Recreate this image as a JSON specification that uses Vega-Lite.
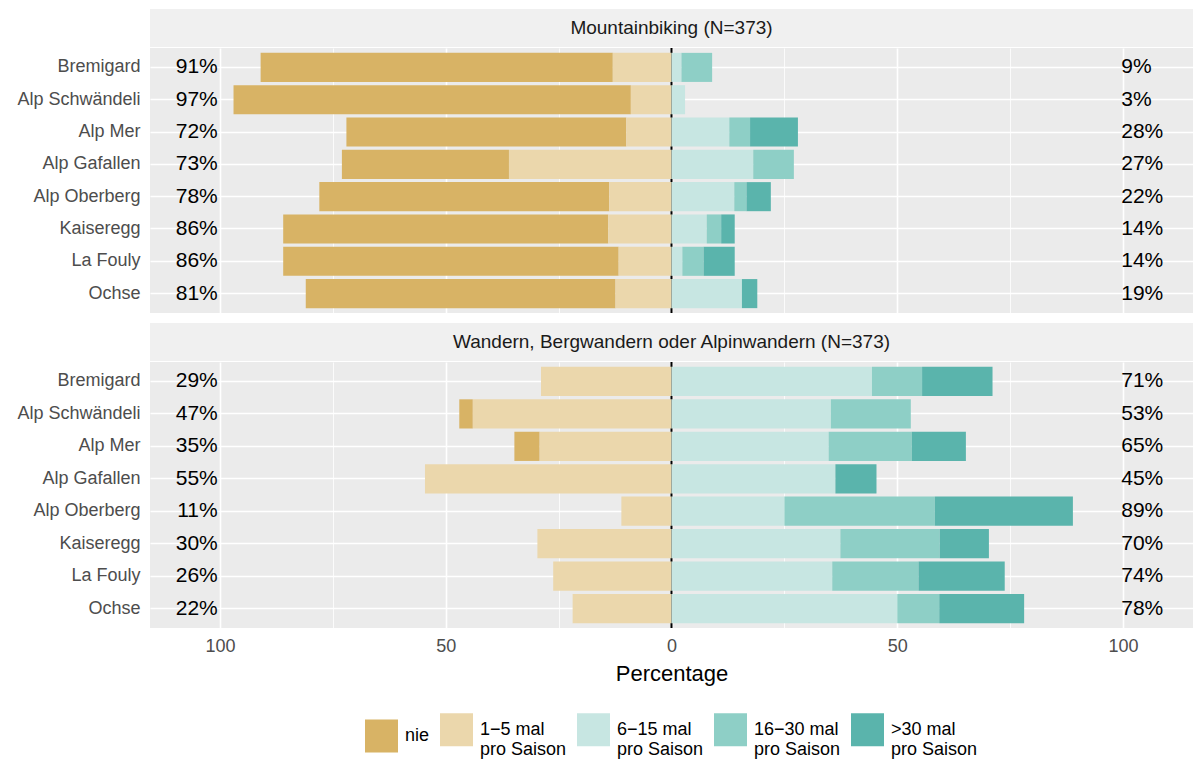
{
  "$schema": "https://vega.github.io/schema/vega-lite/v6.json",
  "padding": {"left": 5, "top": 9, "right": 1, "bottom": 2},
  "background": "white",
  "config": {
    "font": "Liberation Sans",
    "view": {"fill": "#EBEBEB", "stroke": null},
    "axis": {"domain": false, "ticks": false, "tickSize": 0, "gridColor": "white", "labelColor": "#4D4D4D", "labelFontSize": 18, "titleFontWeight": "normal", "titleColor": "black"}
  },
  "datasets": {
    "strips": [
      {"a": "M", "title": "Mountainbiking (N=373)"},
      {"a": "W", "title": "Wandern, Bergwandern oder Alpinwandern (N=373)"}
    ],
    "labels": [
      {"a": "M", "site": "Bremigard", "left": "91%", "right": "9%"},
      {"a": "M", "site": "Alp Schwändeli", "left": "97%", "right": "3%"},
      {"a": "M", "site": "Alp Mer", "left": "72%", "right": "28%"},
      {"a": "M", "site": "Alp Gafallen", "left": "73%", "right": "27%"},
      {"a": "M", "site": "Alp Oberberg", "left": "78%", "right": "22%"},
      {"a": "M", "site": "Kaiseregg", "left": "86%", "right": "14%"},
      {"a": "M", "site": "La Fouly", "left": "86%", "right": "14%"},
      {"a": "M", "site": "Ochse", "left": "81%", "right": "19%"},
      {"a": "W", "site": "Bremigard", "left": "29%", "right": "71%"},
      {"a": "W", "site": "Alp Schwändeli", "left": "47%", "right": "53%"},
      {"a": "W", "site": "Alp Mer", "left": "35%", "right": "65%"},
      {"a": "W", "site": "Alp Gafallen", "left": "55%", "right": "45%"},
      {"a": "W", "site": "Alp Oberberg", "left": "11%", "right": "89%"},
      {"a": "W", "site": "Kaiseregg", "left": "30%", "right": "70%"},
      {"a": "W", "site": "La Fouly", "left": "26%", "right": "74%"},
      {"a": "W", "site": "Ochse", "left": "22%", "right": "78%"}
    ],
    "bars": [
      {"a": "M", "site": "Bremigard", "freq": "nie", "v": -78, "o": 2},
      {"a": "M", "site": "Bremigard", "freq": "1−5 mal pro Saison", "v": -13, "o": 1},
      {"a": "M", "site": "Bremigard", "freq": "6−15 mal pro Saison", "v": 2.2, "o": 3},
      {"a": "M", "site": "Bremigard", "freq": "16−30 mal pro Saison", "v": 6.8, "o": 4},
      {"a": "M", "site": "Alp Schwändeli", "freq": "nie", "v": -88, "o": 2},
      {"a": "M", "site": "Alp Schwändeli", "freq": "1−5 mal pro Saison", "v": -9, "o": 1},
      {"a": "M", "site": "Alp Schwändeli", "freq": "6−15 mal pro Saison", "v": 3, "o": 3},
      {"a": "M", "site": "Alp Mer", "freq": "nie", "v": -62, "o": 2},
      {"a": "M", "site": "Alp Mer", "freq": "1−5 mal pro Saison", "v": -10, "o": 1},
      {"a": "M", "site": "Alp Mer", "freq": "6−15 mal pro Saison", "v": 12.8, "o": 3},
      {"a": "M", "site": "Alp Mer", "freq": "16−30 mal pro Saison", "v": 4.6, "o": 4},
      {"a": "M", "site": "Alp Mer", "freq": ">30 mal pro Saison", "v": 10.6, "o": 5},
      {"a": "M", "site": "Alp Gafallen", "freq": "nie", "v": -37, "o": 2},
      {"a": "M", "site": "Alp Gafallen", "freq": "1−5 mal pro Saison", "v": -36, "o": 1},
      {"a": "M", "site": "Alp Gafallen", "freq": "6−15 mal pro Saison", "v": 18.1, "o": 3},
      {"a": "M", "site": "Alp Gafallen", "freq": "16−30 mal pro Saison", "v": 9.0, "o": 4},
      {"a": "M", "site": "Alp Oberberg", "freq": "nie", "v": -64.2, "o": 2},
      {"a": "M", "site": "Alp Oberberg", "freq": "1−5 mal pro Saison", "v": -13.8, "o": 1},
      {"a": "M", "site": "Alp Oberberg", "freq": "6−15 mal pro Saison", "v": 13.9, "o": 3},
      {"a": "M", "site": "Alp Oberberg", "freq": "16−30 mal pro Saison", "v": 2.7, "o": 4},
      {"a": "M", "site": "Alp Oberberg", "freq": ">30 mal pro Saison", "v": 5.4, "o": 5},
      {"a": "M", "site": "Kaiseregg", "freq": "nie", "v": -72, "o": 2},
      {"a": "M", "site": "Kaiseregg", "freq": "1−5 mal pro Saison", "v": -14, "o": 1},
      {"a": "M", "site": "Kaiseregg", "freq": "6−15 mal pro Saison", "v": 7.8, "o": 3},
      {"a": "M", "site": "Kaiseregg", "freq": "16−30 mal pro Saison", "v": 3.2, "o": 4},
      {"a": "M", "site": "Kaiseregg", "freq": ">30 mal pro Saison", "v": 3.0, "o": 5},
      {"a": "M", "site": "La Fouly", "freq": "nie", "v": -74.3, "o": 2},
      {"a": "M", "site": "La Fouly", "freq": "1−5 mal pro Saison", "v": -11.7, "o": 1},
      {"a": "M", "site": "La Fouly", "freq": "6−15 mal pro Saison", "v": 2.4, "o": 3},
      {"a": "M", "site": "La Fouly", "freq": "16−30 mal pro Saison", "v": 4.7, "o": 4},
      {"a": "M", "site": "La Fouly", "freq": ">30 mal pro Saison", "v": 6.9, "o": 5},
      {"a": "M", "site": "Ochse", "freq": "nie", "v": -68.6, "o": 2},
      {"a": "M", "site": "Ochse", "freq": "1−5 mal pro Saison", "v": -12.4, "o": 1},
      {"a": "M", "site": "Ochse", "freq": "6−15 mal pro Saison", "v": 15.6, "o": 3},
      {"a": "M", "site": "Ochse", "freq": ">30 mal pro Saison", "v": 3.4, "o": 5},
      {"a": "W", "site": "Bremigard", "freq": "1−5 mal pro Saison", "v": -28.9, "o": 1},
      {"a": "W", "site": "Bremigard", "freq": "6−15 mal pro Saison", "v": 44.4, "o": 3},
      {"a": "W", "site": "Bremigard", "freq": "16−30 mal pro Saison", "v": 11.1, "o": 4},
      {"a": "W", "site": "Bremigard", "freq": ">30 mal pro Saison", "v": 15.6, "o": 5},
      {"a": "W", "site": "Alp Schwändeli", "freq": "nie", "v": -3.0, "o": 2},
      {"a": "W", "site": "Alp Schwändeli", "freq": "1−5 mal pro Saison", "v": -44.0, "o": 1},
      {"a": "W", "site": "Alp Schwändeli", "freq": "6−15 mal pro Saison", "v": 35.3, "o": 3},
      {"a": "W", "site": "Alp Schwändeli", "freq": "16−30 mal pro Saison", "v": 17.7, "o": 4},
      {"a": "W", "site": "Alp Mer", "freq": "nie", "v": -5.6, "o": 2},
      {"a": "W", "site": "Alp Mer", "freq": "1−5 mal pro Saison", "v": -29.2, "o": 1},
      {"a": "W", "site": "Alp Mer", "freq": "6−15 mal pro Saison", "v": 34.8, "o": 3},
      {"a": "W", "site": "Alp Mer", "freq": "16−30 mal pro Saison", "v": 18.4, "o": 4},
      {"a": "W", "site": "Alp Mer", "freq": ">30 mal pro Saison", "v": 12.0, "o": 5},
      {"a": "W", "site": "Alp Gafallen", "freq": "1−5 mal pro Saison", "v": -54.6, "o": 1},
      {"a": "W", "site": "Alp Gafallen", "freq": "6−15 mal pro Saison", "v": 36.3, "o": 3},
      {"a": "W", "site": "Alp Gafallen", "freq": ">30 mal pro Saison", "v": 9.1, "o": 5},
      {"a": "W", "site": "Alp Oberberg", "freq": "1−5 mal pro Saison", "v": -11.1, "o": 1},
      {"a": "W", "site": "Alp Oberberg", "freq": "6−15 mal pro Saison", "v": 25.0, "o": 3},
      {"a": "W", "site": "Alp Oberberg", "freq": "16−30 mal pro Saison", "v": 33.3, "o": 4},
      {"a": "W", "site": "Alp Oberberg", "freq": ">30 mal pro Saison", "v": 30.6, "o": 5},
      {"a": "W", "site": "Kaiseregg", "freq": "1−5 mal pro Saison", "v": -29.7, "o": 1},
      {"a": "W", "site": "Kaiseregg", "freq": "6−15 mal pro Saison", "v": 37.4, "o": 3},
      {"a": "W", "site": "Kaiseregg", "freq": "16−30 mal pro Saison", "v": 22.0, "o": 4},
      {"a": "W", "site": "Kaiseregg", "freq": ">30 mal pro Saison", "v": 10.9, "o": 5},
      {"a": "W", "site": "La Fouly", "freq": "1−5 mal pro Saison", "v": -26.2, "o": 1},
      {"a": "W", "site": "La Fouly", "freq": "6−15 mal pro Saison", "v": 35.6, "o": 3},
      {"a": "W", "site": "La Fouly", "freq": "16−30 mal pro Saison", "v": 19.1, "o": 4},
      {"a": "W", "site": "La Fouly", "freq": ">30 mal pro Saison", "v": 19.1, "o": 5},
      {"a": "W", "site": "Ochse", "freq": "1−5 mal pro Saison", "v": -21.9, "o": 1},
      {"a": "W", "site": "Ochse", "freq": "6−15 mal pro Saison", "v": 50.0, "o": 3},
      {"a": "W", "site": "Ochse", "freq": "16−30 mal pro Saison", "v": 9.3, "o": 4},
      {"a": "W", "site": "Ochse", "freq": ">30 mal pro Saison", "v": 18.8, "o": 5}
    ]
  },
  "spacing": 0,
  "resolve": {"scale": {"color": "shared"}, "legend": {"color": "shared"}},
  "vconcat": [
    {
      "width": 1043, "height": 38,
      "view": {"fill": "#F0F0F0", "stroke": null},
      "data": {"name": "strips"},
      "transform": [{"filter": "datum.a == 'M'"}],
      "mark": {"type": "text", "fontSize": 19, "color": "#1A1A1A", "baseline": "middle"},
      "encoding": {"text": {"field": "title"}}
    },
    {
      "width": 1043, "height": 265,
      "layer": [
        {
          "data": {"values": [{"z": 0}]},
          "mark": {"type": "rule", "color": "black", "strokeWidth": 2},
          "encoding": {"x": {"field": "z", "type": "quantitative"}}
        },
        {
          "data": {"name": "bars"},
          "transform": [{"filter": "datum.a == 'M'"}],
          "mark": {"type": "bar"},
          "encoding": {
            "y": {"field": "site", "type": "nominal", "sort": ["Bremigard", "Alp Schwändeli", "Alp Mer", "Alp Gafallen", "Alp Oberberg", "Kaiseregg", "La Fouly", "Ochse"],
                  "scale": {"paddingInner": 0.1, "paddingOuter": 0.15},
                  "axis": {"title": null, "grid": true, "gridWidth": 1.6, "bandPosition": 0.5, "labelPadding": 10, "minExtent": 145, "maxExtent": 145}},
            "x": {"field": "v", "type": "quantitative", "stack": "zero",
                  "scale": {"domain": [-115.5, 115.5], "nice": false},
                  "axis": {"values": [-100, -75, -50, -25, 0, 25, 50, 75, 100], "labels": false, "title": null, "grid": true,
                           "gridWidth": {"condition": {"test": "abs(datum.value) % 50 === 0", "value": 1.6}, "value": 0.8},
                           "minExtent": 10, "maxExtent": 10}},
            "color": {"field": "freq", "type": "nominal",
                      "scale": {"domain": ["nie", "1−5 mal pro Saison", "6−15 mal pro Saison", "16−30 mal pro Saison", ">30 mal pro Saison"],
                                "range": ["#D8B365", "#EBD7AC", "#C7E6E2", "#8ECFC6", "#5AB4AC"]},
                      "legend": {"orient": "none", "legendX": 215, "legendY": 704, "direction": "horizontal", "title": null,
                                 "symbolType": "square", "symbolSize": 1089, "symbolStrokeWidth": 0, "symbolOpacity": 1,
                                 "labelFontSize": 18, "labelColor": "black", "labelOffset": 7, "columnPadding": 10, "labelLimit": 200,
                                 "labelExpr": "indexof(datum.label, ' pro') > 0 ? [substring(datum.label, 0, indexof(datum.label, ' pro')), 'pro Saison'] : datum.label"}},
            "order": {"field": "o", "type": "quantitative"}
          }
        },
        {
          "data": {"name": "labels"},
          "transform": [{"filter": "datum.a == 'M'"}],
          "mark": {"type": "text", "align": "right", "baseline": "middle", "fontSize": 21, "color": "black"},
          "encoding": {
            "y": {"field": "site", "type": "nominal", "sort": ["Bremigard", "Alp Schwändeli", "Alp Mer", "Alp Gafallen", "Alp Oberberg", "Kaiseregg", "La Fouly", "Ochse"]},
            "x": {"datum": -100.5},
            "text": {"field": "left"}
          }
        },
        {
          "data": {"name": "labels"},
          "transform": [{"filter": "datum.a == 'M'"}],
          "mark": {"type": "text", "align": "left", "baseline": "middle", "fontSize": 21, "color": "black"},
          "encoding": {
            "y": {"field": "site", "type": "nominal", "sort": ["Bremigard", "Alp Schwändeli", "Alp Mer", "Alp Gafallen", "Alp Oberberg", "Kaiseregg", "La Fouly", "Ochse"]},
            "x": {"datum": 99.6},
            "text": {"field": "right"}
          }
        }
      ]
    },
    {
      "width": 1043, "height": 38,
      "view": {"fill": "#F0F0F0", "stroke": null},
      "data": {"name": "strips"},
      "transform": [{"filter": "datum.a == 'W'"}],
      "mark": {"type": "text", "fontSize": 19, "color": "#1A1A1A", "baseline": "middle"},
      "encoding": {"text": {"field": "title"}}
    },
    {
      "width": 1043, "height": 266,
      "layer": [
        {
          "data": {"values": [{"z": 0}]},
          "mark": {"type": "rule", "color": "black", "strokeWidth": 2},
          "encoding": {"x": {"field": "z", "type": "quantitative"}}
        },
        {
          "data": {"name": "bars"},
          "transform": [{"filter": "datum.a == 'W'"}],
          "mark": {"type": "bar"},
          "encoding": {
            "y": {"field": "site", "type": "nominal", "sort": ["Bremigard", "Alp Schwändeli", "Alp Mer", "Alp Gafallen", "Alp Oberberg", "Kaiseregg", "La Fouly", "Ochse"],
                  "scale": {"paddingInner": 0.1, "paddingOuter": 0.15},
                  "axis": {"title": null, "grid": true, "gridWidth": 1.6, "bandPosition": 0.5, "labelPadding": 10, "minExtent": 145, "maxExtent": 145}},
            "x": {"field": "v", "type": "quantitative", "stack": "zero",
                  "scale": {"domain": [-115.5, 115.5], "nice": false},
                  "axis": {"values": [-100, -75, -50, -25, 0, 25, 50, 75, 100],
                           "labelExpr": "abs(datum.value) % 50 === 0 ? format(abs(datum.value), 'd') : ''",
                           "labelPadding": 9, "title": "Percentage", "titleFontSize": 22, "titlePadding": 8, "grid": true,
                           "gridWidth": {"condition": {"test": "abs(datum.value) % 50 === 0", "value": 1.6}, "value": 0.8}}},
            "color": {"field": "freq", "type": "nominal",
                      "scale": {"domain": ["nie", "1−5 mal pro Saison", "6−15 mal pro Saison", "16−30 mal pro Saison", ">30 mal pro Saison"],
                                "range": ["#D8B365", "#EBD7AC", "#C7E6E2", "#8ECFC6", "#5AB4AC"]},
                      "legend": {"orient": "none", "legendX": 215, "legendY": 704, "direction": "horizontal", "title": null,
                                 "symbolType": "square", "symbolSize": 1089, "symbolStrokeWidth": 0, "symbolOpacity": 1,
                                 "labelFontSize": 18, "labelColor": "black", "labelOffset": 7, "columnPadding": 10, "labelLimit": 200,
                                 "labelExpr": "indexof(datum.label, ' pro') > 0 ? [substring(datum.label, 0, indexof(datum.label, ' pro')), 'pro Saison'] : datum.label"}},
            "order": {"field": "o", "type": "quantitative"}
          }
        },
        {
          "data": {"name": "labels"},
          "transform": [{"filter": "datum.a == 'W'"}],
          "mark": {"type": "text", "align": "right", "baseline": "middle", "fontSize": 21, "color": "black"},
          "encoding": {
            "y": {"field": "site", "type": "nominal", "sort": ["Bremigard", "Alp Schwändeli", "Alp Mer", "Alp Gafallen", "Alp Oberberg", "Kaiseregg", "La Fouly", "Ochse"]},
            "x": {"datum": -100.5},
            "text": {"field": "left"}
          }
        },
        {
          "data": {"name": "labels"},
          "transform": [{"filter": "datum.a == 'W'"}],
          "mark": {"type": "text", "align": "left", "baseline": "middle", "fontSize": 21, "color": "black"},
          "encoding": {
            "y": {"field": "site", "type": "nominal", "sort": ["Bremigard", "Alp Schwändeli", "Alp Mer", "Alp Gafallen", "Alp Oberberg", "Kaiseregg", "La Fouly", "Ochse"]},
            "x": {"datum": 99.6},
            "text": {"field": "right"}
          }
        }
      ]
    }
  ]
}
